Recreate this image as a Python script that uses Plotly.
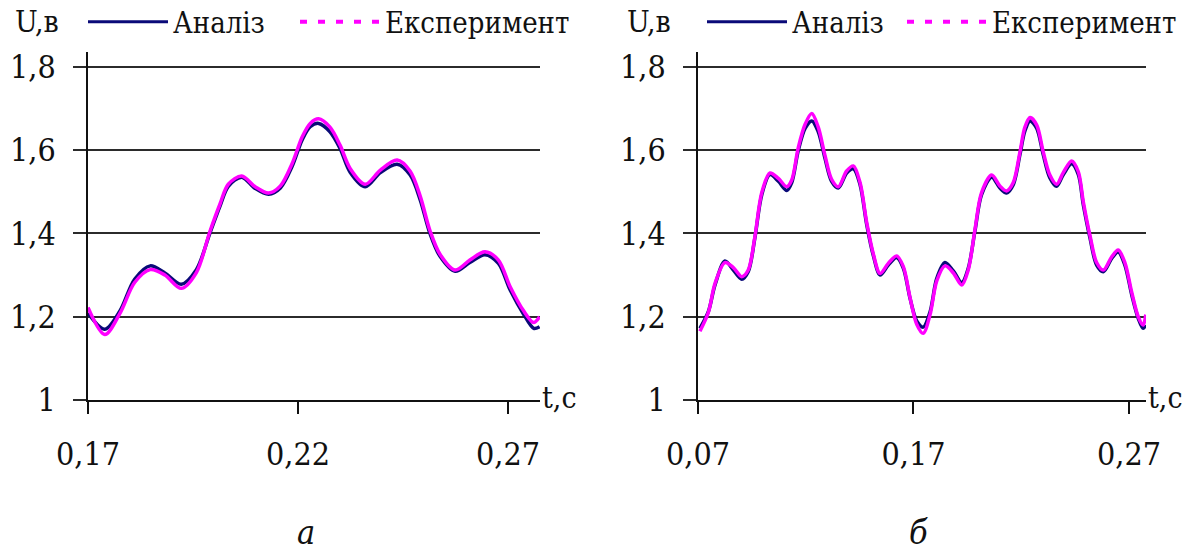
import plotly.graph_objects as go

# ---- panel a: t = 0.17 ... 0.278 s ----
t_a = [0.1700, 0.1740, 0.1776, 0.1811, 0.1848, 0.1883, 0.1922, 0.1958, 0.1990,
       0.2014, 0.2034, 0.2066, 0.2098, 0.2130, 0.2158, 0.2186, 0.2210, 0.2229,
       0.2249, 0.2276, 0.2300, 0.2324, 0.2360, 0.2396, 0.2436, 0.2467, 0.2491,
       0.2514, 0.2538, 0.2574, 0.2609, 0.2645, 0.2677, 0.2705, 0.2737, 0.2761,
       0.2775]
u_a_model = [1.209, 1.170, 1.214, 1.290, 1.322, 1.305, 1.278, 1.313, 1.400,
             1.465, 1.513, 1.535, 1.508, 1.494, 1.509, 1.561, 1.625, 1.656,
             1.664, 1.644, 1.604, 1.547, 1.512, 1.546, 1.566, 1.540, 1.480,
             1.400, 1.345, 1.309, 1.330, 1.349, 1.328, 1.264, 1.206, 1.172,
             1.176]
u_a_exp = [1.222, 1.157, 1.208, 1.282, 1.313, 1.300, 1.268, 1.306, 1.404,
           1.470, 1.518, 1.538, 1.512, 1.497, 1.514, 1.568, 1.632, 1.664,
           1.675, 1.655, 1.612, 1.556, 1.518, 1.552, 1.576, 1.549, 1.489,
           1.407, 1.350, 1.312, 1.336, 1.356, 1.336, 1.272, 1.214, 1.186,
           1.200]

# ---- panel б: t = 0.07 ... 0.278 s ----
t_b = [0.0709, 0.0748, 0.0779, 0.0825, 0.0864, 0.0903, 0.0933, 0.0964, 0.0996,
       0.1034, 0.1073, 0.1112, 0.1135, 0.1165, 0.1197, 0.1228, 0.1258, 0.1289,
       0.1320, 0.1351, 0.1390, 0.1421, 0.1452, 0.1483, 0.1513, 0.1545, 0.1583,
       0.1622, 0.1653, 0.1684, 0.1715, 0.1745, 0.1777, 0.1808, 0.1846, 0.1885,
       0.1924, 0.1954, 0.1985, 0.2016, 0.2063, 0.2101, 0.2132, 0.2163, 0.2194,
       0.2217, 0.2241, 0.2272, 0.2302, 0.2333, 0.2364, 0.2395, 0.2434, 0.2465,
       0.2488, 0.2519, 0.2550, 0.2581, 0.2620, 0.2650, 0.2681, 0.2713, 0.2743,
       0.2766, 0.2778]
u_b_model = [1.172, 1.212, 1.276, 1.334, 1.312, 1.290, 1.308, 1.389, 1.493,
             1.541, 1.525, 1.503, 1.522, 1.598, 1.652, 1.670, 1.644, 1.581,
             1.525, 1.509, 1.545, 1.555, 1.517, 1.421, 1.348, 1.300, 1.324,
             1.342, 1.316, 1.244, 1.190, 1.175, 1.212, 1.292, 1.330, 1.310,
             1.282, 1.316, 1.405, 1.493, 1.535, 1.509, 1.497, 1.517, 1.589,
             1.646, 1.670, 1.652, 1.589, 1.533, 1.513, 1.541, 1.567, 1.541,
             1.469, 1.389, 1.324, 1.308, 1.340, 1.355, 1.324, 1.252, 1.196,
             1.172, 1.180]
u_b_exp = [1.165, 1.210, 1.280, 1.330, 1.318, 1.296, 1.312, 1.392, 1.498,
           1.545, 1.532, 1.512, 1.528, 1.605, 1.662, 1.688, 1.655, 1.588,
           1.530, 1.512, 1.550, 1.562, 1.522, 1.426, 1.352, 1.304, 1.328,
           1.346, 1.320, 1.246, 1.182, 1.160, 1.205, 1.286, 1.322, 1.305,
           1.276, 1.312, 1.408, 1.498, 1.540, 1.514, 1.502, 1.522, 1.595,
           1.655, 1.678, 1.660, 1.596, 1.540, 1.518, 1.546, 1.574, 1.548,
           1.476, 1.395, 1.330, 1.312, 1.344, 1.360, 1.330, 1.258, 1.200,
           1.180, 1.205]

y_ticks = [1.0, 1.2, 1.4, 1.6, 1.8]
y_ticktext = ["1", "1,2", "1,4", "1,6", "1,8"]
x_ticks_a = [0.17, 0.22, 0.27]
x_ticks_b = [0.07, 0.17, 0.27]
x_ticktext_a = ["0,17", "0,22", "0,27"]
x_ticktext_b = ["0,07", "0,17", "0,27"]

NAVY = "#0a0a78"
MAGENTA = "#ff00ff"
SERIF = "DejaVu Serif Condensed, DejaVu Serif"
W, H = 1191, 551

fig = go.Figure()

for t, um, ue, xa, ya in [(t_a, u_a_model, u_a_exp, "x", "y"),
                          (t_b, u_b_model, u_b_exp, "x2", "y2")]:
    fig.add_trace(go.Scatter(x=t, y=um, xaxis=xa, yaxis=ya, mode="lines",
                             line=dict(color=NAVY, width=3.5, shape="spline", smoothing=0.9),
                             showlegend=False, hoverinfo="skip"))
    fig.add_trace(go.Scatter(x=t, y=ue, xaxis=xa, yaxis=ya, mode="lines",
                             line=dict(color=MAGENTA, width=3.5, shape="spline", smoothing=0.9),
                             showlegend=False, hoverinfo="skip"))

# legend keys (one legend box per entry so each can be placed freely)
legend_entries = [("Аналіз", NAVY, "solid", 3, "legend"),
                  ("Експеримент", MAGENTA, "7px,11px", 4, "legend2"),
                  ("Аналіз", NAVY, "solid", 3, "legend3"),
                  ("Експеримент", MAGENTA, "7px,11px", 4, "legend4")]
for name, col, dash, lw, lg in legend_entries:
    fig.add_trace(go.Scatter(x=[None], y=[None], mode="lines", name=name,
                             line=dict(color=col, width=lw, dash=dash),
                             legend=lg, showlegend=True))

legend_x_px = [83, 295, 702, 902]
leg_style = dict(orientation="h", yanchor="middle", xanchor="left",
                 bgcolor="rgba(0,0,0,0)", borderwidth=0, itemwidth=80,
                 font=dict(family=SERIF, size=29, color="#111"))
legends = {}
for name_key, px in zip(["legend", "legend2", "legend3", "legend4"], legend_x_px):
    legends[name_key] = dict(x=px / W, y=(H - 22) / H, **leg_style)

tickfont = dict(family=SERIF, size=32, color="#111")


def xaxis_cfg(dom, rng, vals, text):
    return dict(domain=dom, range=rng, tickvals=vals, ticktext=text,
                showgrid=False, zeroline=False, showline=True, automargin=False,
                linecolor="#111", linewidth=1.6, ticks="outside", ticklen=12,
                tickwidth=1.6, tickcolor="#111", tickfont=tickfont,
                ticklabelstandoff=13, fixedrange=True)


def yaxis_cfg(anchor):
    return dict(domain=[151 / H, 499 / H], range=[1.0, 1.8355],
                tickvals=y_ticks, ticktext=y_ticktext, anchor=anchor,
                showgrid=True, gridcolor="#2b2b2b", gridwidth=1.6, automargin=False,
                zeroline=False, showline=True, linecolor="#111", linewidth=1.6,
                ticks="outside", ticklen=13, tickwidth=1.6, tickcolor="#2b2b2b",
                tickfont=tickfont, ticklabelstandoff=11, fixedrange=True)


fig.update_layout(
    width=W, height=H, autosize=False,
    margin=dict(l=0, r=0, t=0, b=0, autoexpand=False),
    paper_bgcolor="white", plot_bgcolor="white",
    font=dict(family=SERIF, color="#111"),
    xaxis=xaxis_cfg([88 / W, 540 / W], [0.17, 0.2776], x_ticks_a, x_ticktext_a) | dict(anchor="y"),
    yaxis=yaxis_cfg("x"),
    xaxis2=xaxis_cfg([698 / W, 1146 / W], [0.07, 0.2779], x_ticks_b, x_ticktext_b) | dict(anchor="y2"),
    yaxis2=yaxis_cfg("x2"),
    **legends,
)

labfont = dict(family=SERIF, size=30, color="#111")
annotations = [
    dict(text="U,в", xref="paper", yref="paper", x=13 / W, y=(H - 22) / H,
         xanchor="left", yanchor="middle", showarrow=False, font=labfont),
    dict(text="U,в", xref="paper", yref="paper", x=625 / W, y=(H - 22) / H,
         xanchor="left", yanchor="middle", showarrow=False, font=labfont),
    dict(text="t,c", xref="x domain", yref="y", x=1, y=1.0, xanchor="left",
         yanchor="middle", showarrow=False, font=labfont, yshift=3),
    dict(text="t,c", xref="x2 domain", yref="y2", x=1, y=1.0, xanchor="left",
         yanchor="middle", showarrow=False, font=labfont, yshift=3),
    dict(text="<i>а</i>", xref="paper", yref="paper", x=306 / W, y=(H - 532) / H,
         xanchor="center", yanchor="middle", showarrow=False,
         font=dict(family=SERIF, size=34, color="#111")),
    dict(text="<i>б</i>", xref="paper", yref="paper", x=918 / W, y=(H - 532) / H,
         xanchor="center", yanchor="middle", showarrow=False,
         font=dict(family=SERIF, size=34, color="#111")),
]
fig.update_layout(annotations=annotations)

fig.write_html("out.html", config={"displayModeBar": False})
